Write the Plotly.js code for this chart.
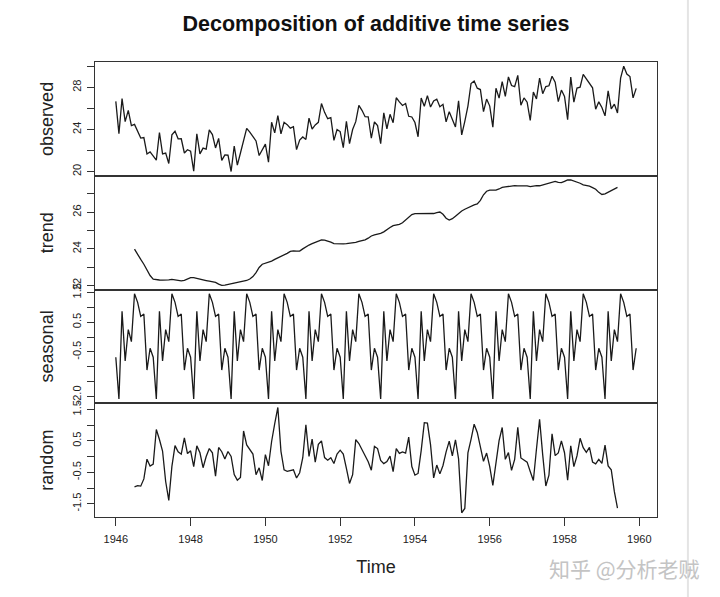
<!DOCTYPE html>
<html>
<head>
<meta charset="utf-8">
<script src="https://cdn.plot.ly/plotly-3.0.1.min.js"></script>
<style>
  html, body { margin: 0; padding: 0; background: #fff; }
  #chart { width: 720px; height: 597px; }
</style>
</head>
<body>
<div id="chart"></div>
<script>
// monthly births, New York City, Jan 1946 - Dec 1959 (thousands)
const startYear = 1946;
const births = [
  26.663, 23.598, 26.931, 24.740, 25.806, 24.364, 24.477, 23.901, 23.175, 23.227, 21.672, 21.870,
  21.439, 21.089, 23.709, 21.669, 21.752, 20.761, 23.479, 23.824, 23.105, 23.110, 21.759, 22.073,
  21.937, 20.035, 23.590, 21.672, 22.222, 22.123, 23.950, 23.504, 22.238, 23.142, 21.059, 21.573,
  21.548, 20.000, 22.424, 20.615, 21.761, 22.874, 24.104, 23.748, 23.262, 22.907, 21.519, 22.025,
  22.604, 20.894, 24.677, 23.673, 25.320, 23.583, 24.671, 24.454, 24.122, 24.252, 22.084, 22.991,
  23.287, 23.049, 25.076, 24.037, 24.430, 24.667, 26.451, 25.618, 25.014, 25.110, 22.964, 23.981,
  23.798, 22.270, 24.775, 22.646, 23.988, 24.737, 26.276, 25.816, 25.210, 25.199, 23.162, 24.707,
  24.364, 22.644, 25.565, 24.062, 25.431, 24.635, 27.009, 26.606, 26.268, 26.462, 25.246, 25.180,
  24.657, 23.304, 26.982, 26.199, 27.210, 26.122, 26.706, 26.878, 26.152, 26.379, 24.712, 25.688,
  24.990, 24.239, 26.721, 23.475, 24.767, 26.219, 28.361, 28.599, 27.914, 27.784, 25.693, 26.881,
  26.217, 24.218, 27.914, 26.975, 28.527, 27.139, 28.982, 28.169, 28.056, 29.136, 26.291, 26.987,
  26.589, 24.848, 27.543, 26.896, 28.878, 27.390, 28.065, 28.141, 29.048, 28.484, 26.634, 27.735,
  27.132, 24.924, 28.963, 26.589, 27.931, 28.009, 29.229, 28.759, 28.405, 27.945, 25.912, 26.619,
  26.076, 25.286, 27.660, 25.951, 26.398, 25.565, 28.865, 30.000, 29.261, 29.012, 26.992, 27.897
];

const yearTicks = [1946, 1948, 1950, 1952, 1954, 1956, 1958, 1960];
const observedTicks = [20, 22, 24, 26, 28, 30];
const observedLabels = ['20', '', '24', '', '28', ''];
const trendTicks = [22, 23, 24, 25, 26, 27];
const trendLabels = ['22', '', '24', '', '26', ''];
const seasonalTicks = [-2, -1.5, -1, -0.5, 0, 0.5, 1, 1.5];
const seasonalLabels = ['-2.0', '', '', '-0.5', '', '0.5', '', '1.5'];
const randomTicks = [-1.5, -1, -0.5, 0, 0.5, 1, 1.5];
const randomLabels = ['-1.5', '', '-0.5', '', '0.5', '', '1.5'];

// classical additive decomposition, same as R's decompose()
const n = births.length;
const time = births.map((_, i) => startYear + i / 12);
const trend = births.map((_, i) => {
  if (i < 6 || i > n - 7) return null;
  let s = 0.5 * births[i - 6] + 0.5 * births[i + 6];
  for (let k = i - 5; k <= i + 5; k++) s += births[k];
  return s / 12;
});
const monthSum = new Array(12).fill(0);
const monthCount = new Array(12).fill(0);
births.forEach((v, i) => {
  if (trend[i] !== null) {
    monthSum[i % 12] += v - trend[i];
    monthCount[i % 12] += 1;
  }
});
let figure = monthSum.map((s, m) => s / monthCount[m]);
const figMean = figure.reduce((a, b) => a + b, 0) / 12;
figure = figure.map(f => f - figMean);
const seasonal = births.map((_, i) => figure[i % 12]);
const random = births.map((v, i) => trend[i] === null ? null : v - trend[i] - seasonal[i]);

// R style 4% padding on every axis
function padded(vals) {
  const v = vals.filter(d => d !== null);
  const lo = Math.min(...v), hi = Math.max(...v);
  const pad = (hi - lo) * 0.04;
  return [lo - pad, hi + pad];
}

const font = 'Liberation Sans, Arial, sans-serif';
const lineStyle = { color: '#1a1a1a', width: 1.3 };
const boxColor = '#333';

const traces = [
  { x: time, y: births, xaxis: 'x', yaxis: 'y' },
  { x: time, y: trend, xaxis: 'x2', yaxis: 'y2' },
  { x: time, y: seasonal, xaxis: 'x3', yaxis: 'y3' },
  { x: time, y: random, xaxis: 'x4', yaxis: 'y4' }
].map(t => Object.assign(t, { type: 'scatter', mode: 'lines', line: lineStyle, hoverinfo: 'skip' }));

const xRange = padded(time);

function xAxis(anchor, bottom) {
  return {
    anchor,
    range: xRange,
    showline: true, mirror: true, linecolor: boxColor, linewidth: 1,
    showgrid: false, zeroline: false,
    ticks: bottom ? 'outside' : '', ticklen: 8, tickcolor: boxColor,
    tickvals: yearTicks,
    showticklabels: bottom,
    ticklabelstandoff: 4,
    tickfont: { family: font, size: 11, color: '#222' },
    title: bottom ? { text: 'Time', font: { family: font, size: 18, color: '#222' }, standoff: 16 } : undefined
  };
}

function yAxis(anchor, domain, vals, ticks, labels, name) {
  return {
    anchor, domain,
    range: padded(vals),
    showline: true, mirror: true, linecolor: boxColor, linewidth: 1,
    showgrid: false, zeroline: false,
    ticks: 'outside', ticklen: 7, tickcolor: boxColor,
    tickvals: ticks, ticktext: labels, tickangle: -90,
    ticklabelstandoff: 2,
    tickfont: { family: font, size: 11, color: '#222' },
    title: { text: name, font: { family: font, size: 18, color: '#222' }, standoff: 12 }
  };
}

const layout = {
  width: 720, height: 597,
  margin: { l: 95, r: 63, t: 62, b: 80 },
  paper_bgcolor: '#fff', plot_bgcolor: '#fff',
  showlegend: false,
  title: {
    text: '<b>Decomposition of additive time series</b>',
    font: { family: font, size: 21.5, color: '#111' },
    xref: 'paper', x: 0.5, xanchor: 'center',
    yref: 'container', y: 0.961, yanchor: 'middle'
  },
  xaxis: xAxis('y', false),
  xaxis2: xAxis('y2', false),
  xaxis3: xAxis('y3', false),
  xaxis4: xAxis('y4', true),
  yaxis: yAxis('x', [0.75, 1], births, observedTicks, observedLabels, 'observed'),
  yaxis2: yAxis('x2', [0.5, 0.75], trend, trendTicks, trendLabels, 'trend'),
  yaxis3: yAxis('x3', [0.25, 0.5], seasonal, seasonalTicks, seasonalLabels, 'seasonal'),
  yaxis4: yAxis('x4', [0, 0.25], random, randomTicks, randomLabels, 'random'),
  shapes: [{
    type: 'line', xref: 'paper', yref: 'paper',
    x0: 1.055, x1: 1.055, y0: -0.18, y1: 1.14,
    line: { color: '#e4e4e4', width: 2 }
  }],
  annotations: [{
    text: '知乎 @分析老贼',
    xref: 'paper', yref: 'paper', x: 0.943, y: -0.112,
    xanchor: 'center', yanchor: 'middle',
    showarrow: false,
    font: { family: 'Noto Sans CJK SC, sans-serif', size: 21, color: '#c4c4c4' }
  }]
};

Plotly.newPlot('chart', traces, layout, { staticPlot: true, displayModeBar: false });
</script>
</body>
</html>
